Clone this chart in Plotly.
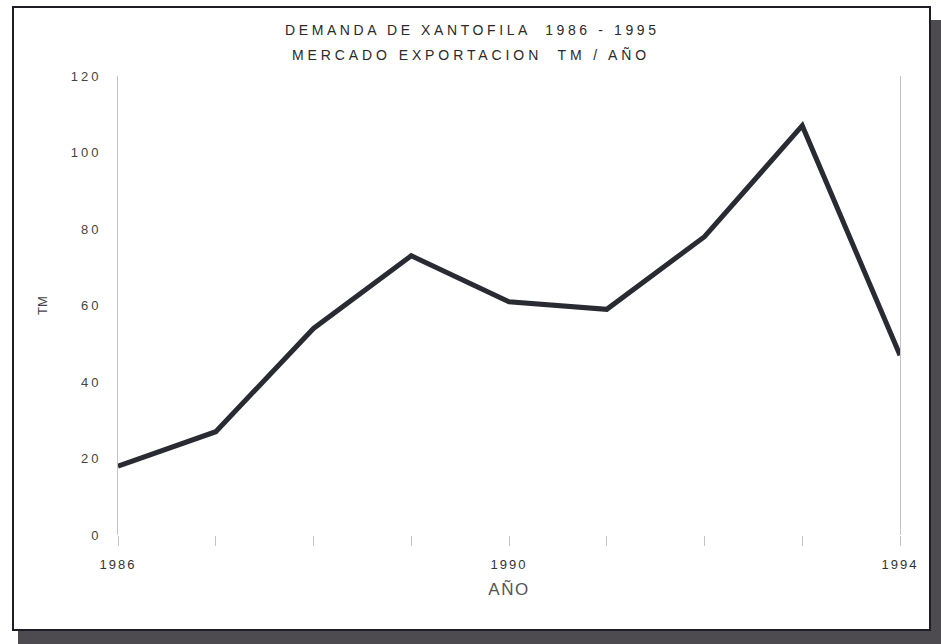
import plotly.graph_objects as go

years = [1986, 1987, 1988, 1989, 1990, 1991, 1992, 1993, 1994]
demanda_tm = [18, 27, 54, 73, 61, 59, 78, 107, 47]
x_tick_labels = ["1986", "", "", "", "1990", "", "", "", "1994"]
y_tick_vals = [0, 20, 40, 60, 80, 100, 120]

title_line1 = "DEMANDA DE XANTOFILA  1986 - 1995"
title_line2 = "MERCADO EXPORTACION  TM / AÑO"

FONT = "Liberation Sans, Arial, sans-serif"

W, H = 941, 644
L, R, T, B = 118, 41, 76, 109
pw = W - L - R
ph = H - T - B
def ax(x):
    return (x - L) / pw
def ay(y):
    return (H - B - y) / ph

fig = go.Figure()
fig.add_trace(go.Scatter(
    x=years, y=demanda_tm, mode="lines",
    line=dict(color="#2a2a33", width=5),
    showlegend=False, hoverinfo="skip",
))

# drop shadow and white framed box
fig.add_shape(type="rect", xref="paper", yref="paper",
              x0=ax(18), x1=ax(945), y0=ay(648), y1=ay(20),
              fillcolor="#4d4b50", line=dict(width=0), layer="below")
fig.add_shape(type="rect", xref="paper", yref="paper",
              x0=ax(13), x1=ax(930), y0=ay(630), y1=ay(7),
              fillcolor="white", line=dict(color="#1e1c24", width=2), layer="below")

fig.add_annotation(text=f'<span style="letter-spacing:3.6px">{title_line1}</span>',
                   xref="paper", yref="paper", x=ax(472), y=ay(30),
                   showarrow=False, font=dict(family=FONT, size=14, color="#2a2a2a"),
                   xanchor="center", yanchor="middle")
fig.add_annotation(text=f'<span style="letter-spacing:3.9px">{title_line2}</span>',
                   xref="paper", yref="paper", x=ax(471), y=ay(55),
                   showarrow=False, font=dict(family=FONT, size=14, color="#2a2a2a"),
                   xanchor="center", yanchor="middle")

fig.update_layout(
    width=W, height=H,
    margin=dict(l=L, r=R, t=T, b=B),
    paper_bgcolor="white", plot_bgcolor="rgba(0,0,0,0)",
    font=dict(family=FONT, color="#444"),
    xaxis=dict(
        range=[1986, 1994], tickvals=years,
        ticktext=[f'<span style="letter-spacing:2px">{t}</span>' if t else "" for t in x_tick_labels],
        ticks="outside", ticklen=10, tickcolor="#c4c4c4", tickwidth=1,
        ticklabelstandoff=7,
        showgrid=False, zeroline=False, showline=False,
        tickfont=dict(size=13, color="#333"),
        title=dict(text='<span style="letter-spacing:1.5px">AÑO</span>',
                   font=dict(size=17, color="#555"), standoff=12),
    ),
    yaxis=dict(
        range=[0, 120], tickvals=y_tick_vals,
        ticktext=[f'<span style="letter-spacing:3px">{v}</span>' for v in y_tick_vals],
        showgrid=False, zeroline=False,
        showline=True, mirror=True, linecolor="#c4c4c4", linewidth=1,
        ticks="", ticklabelstandoff=13,
        tickfont=dict(size=13, color="#444"),
        title=dict(text="TM", font=dict(size=13, color="#444"), standoff=20),
    ),
)

fig.write_html("out.html")
